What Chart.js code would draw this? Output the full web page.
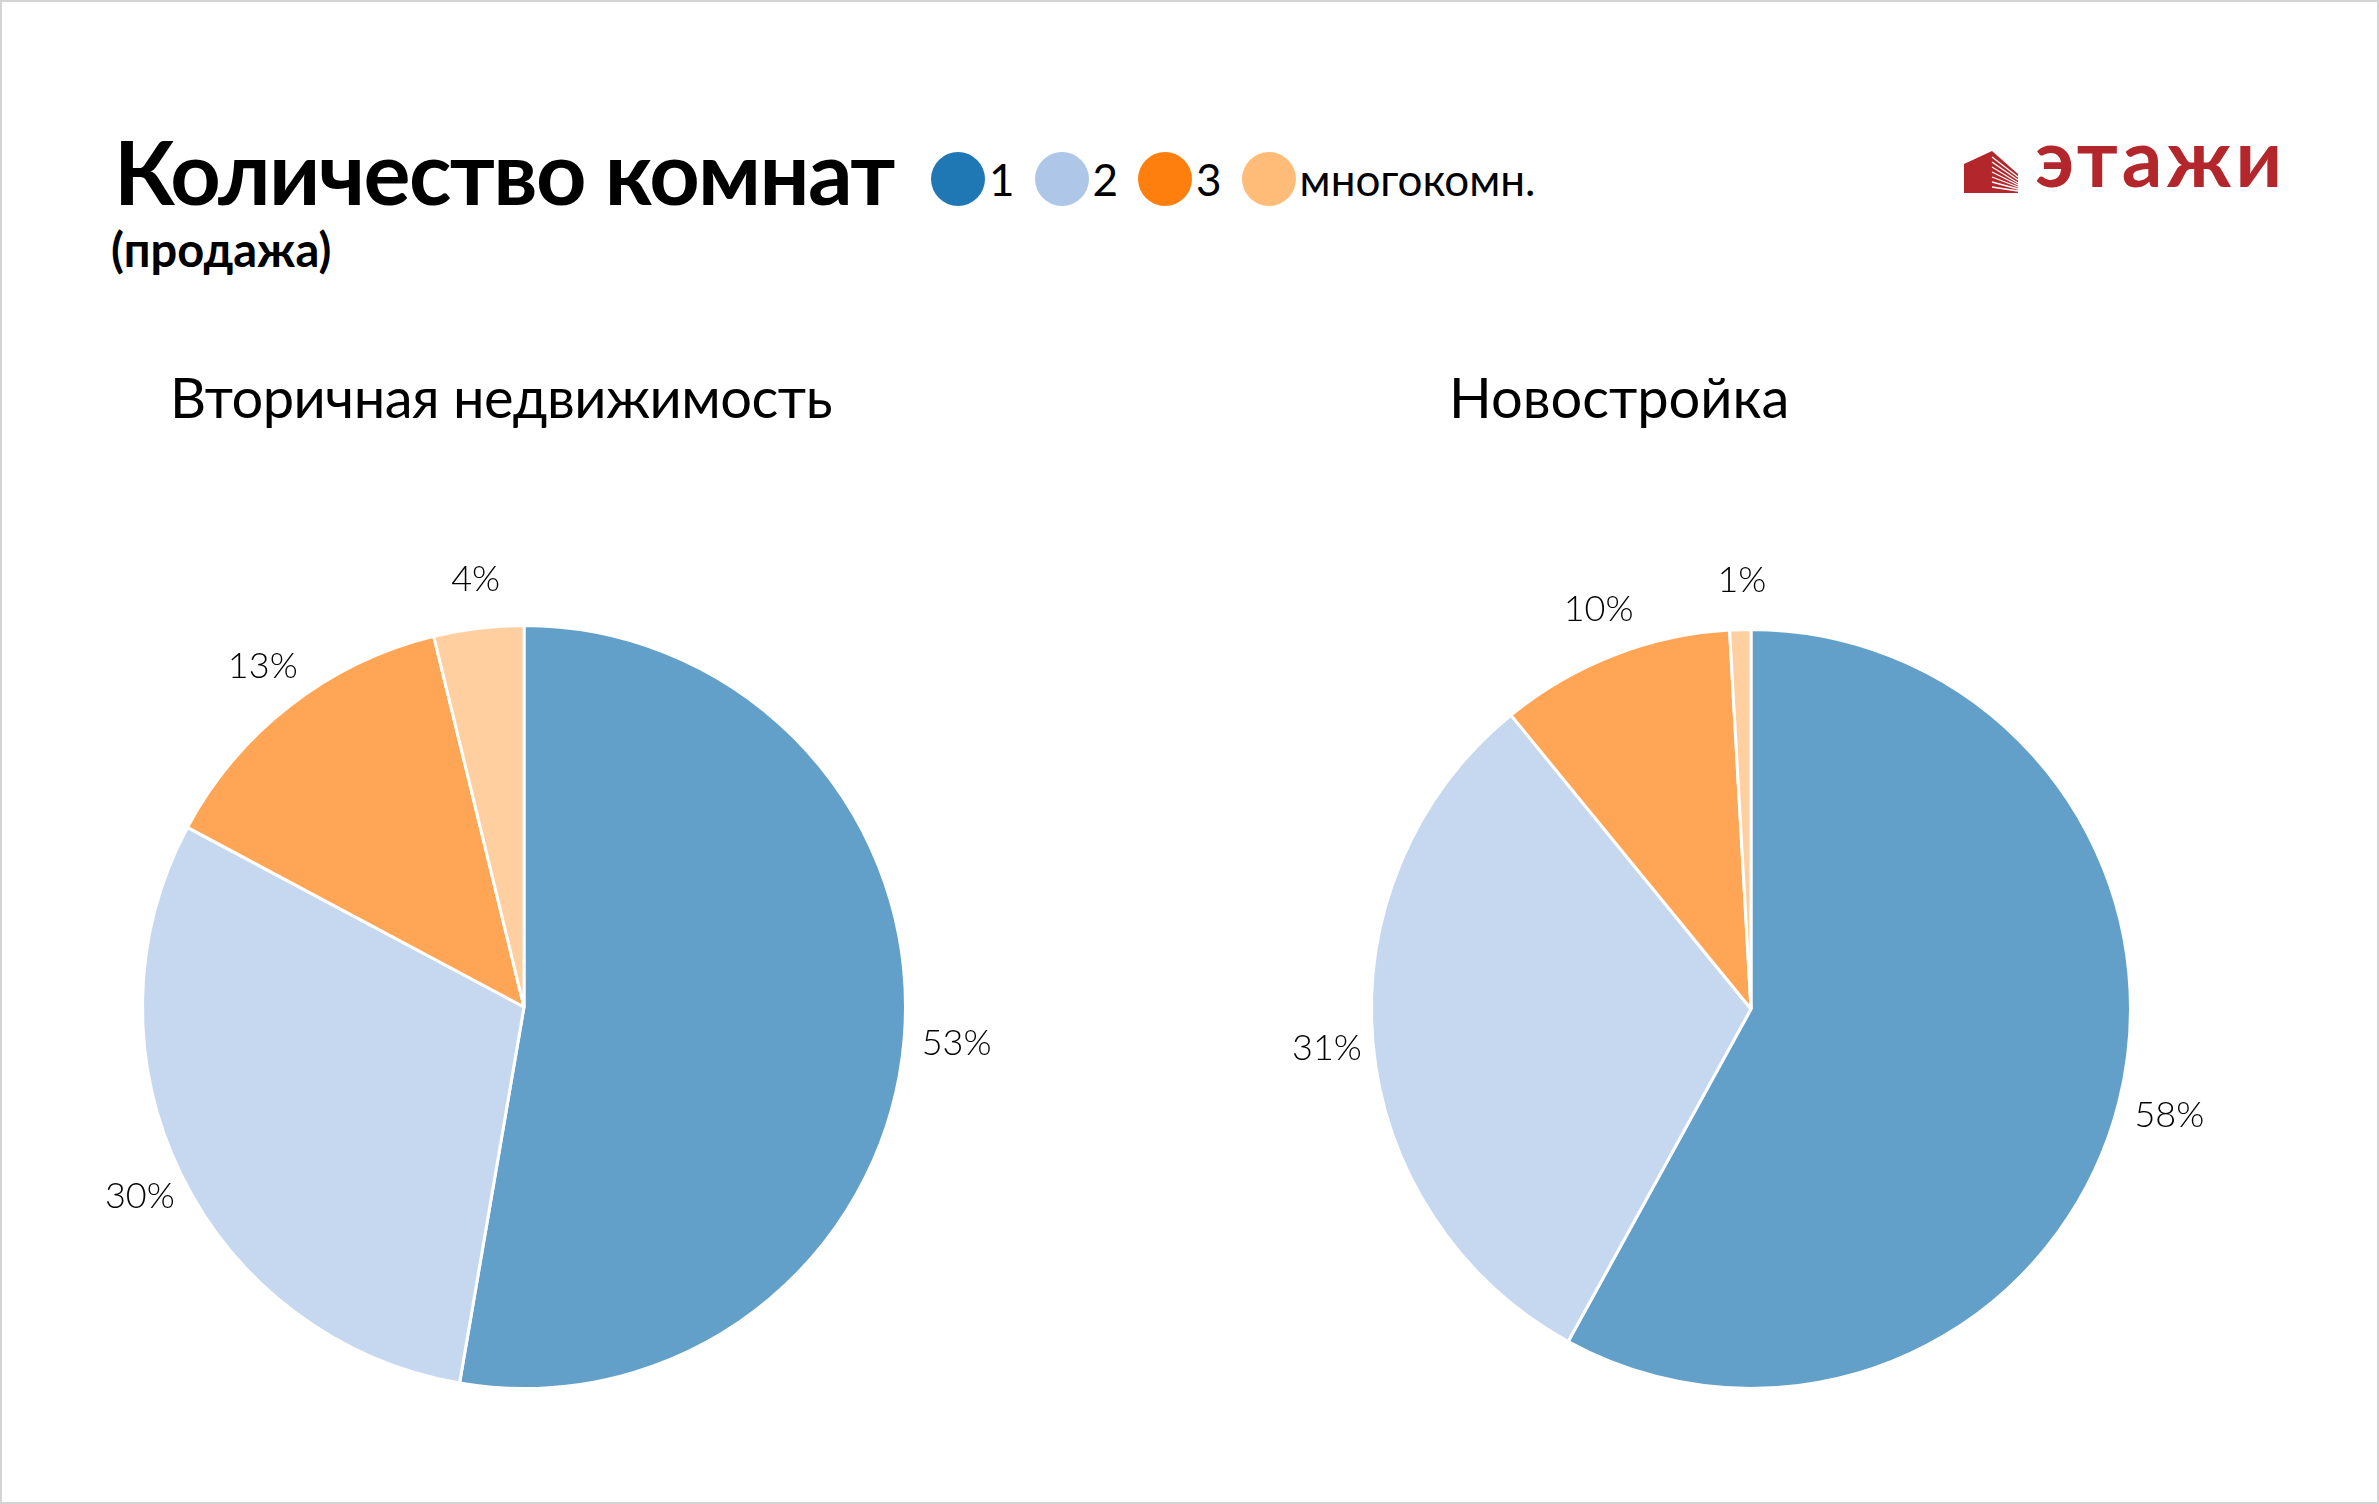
<!DOCTYPE html>
<html>
<head>
<meta charset="utf-8">
<script src="https://cdn.jsdelivr.net/npm/chart.js@4.4.1/dist/chart.umd.min.js"></script>
<style>
  html, body { margin: 0; padding: 0; background: #fff; }
  #page {
    position: relative; width: 2379px; height: 1504px; box-sizing: border-box;
    border: 2px solid #d4d4d4; background: #fff; overflow: hidden;
    font-family: Lato, "Noto Sans", sans-serif; color: #000;
  }
  .abs { position: absolute; line-height: 1; white-space: nowrap; }
  #title { left: 112px; top: 125px; font-size: 88px; font-weight: 700; letter-spacing: -1.6px; }
  #subtitle { left: 109px; top: 224px; font-size: 47px; font-weight: 700; }
  #legend { left: 929px; top: 150px; display: flex; align-items: center; height: 54px; }
  .item { display: flex; align-items: center; margin-right: 20px; }
  .dot { width: 54px; height: 54px; border-radius: 50%; margin-right: 4px; }
  .item span { font-size: 44px; }
  #logo { left: 1960px; top: 146px; }
  #logoText { left: 2033px; top: 114px; font-size: 80px; font-weight: 700; color: #b3262b; letter-spacing: 4px; }
  .ptitle { font-size: 56px; font-weight: 400; top: 367px; }
  canvas { position: absolute; }
</style>
</head>
<body>
<div id="page">
  <div id="title" class="abs">Количество комнат</div>
  <div id="subtitle" class="abs">(продажа)</div>
  <div id="legend" class="abs"></div>

  <svg id="logo" class="abs" width="58" height="46" viewBox="0 0 58 46">
    <polygon points="2,45 2,16 30,3 56,26 56,45" fill="#b3262b"/>
    <g stroke="#fff" stroke-width="1.3">
      <line x1="30" y1="9" x2="56" y2="29"/>
      <line x1="30" y1="14" x2="56" y2="32"/>
      <line x1="30" y1="19" x2="56" y2="35"/>
      <line x1="30" y1="24" x2="56" y2="37"/>
      <line x1="30" y1="29" x2="56" y2="39"/>
      <line x1="30" y1="34" x2="56" y2="41"/>
      <line x1="30" y1="39" x2="56" y2="43"/>
    </g>
  </svg>
  <div id="logoText" class="abs">этажи</div>

  <div class="abs ptitle" style="left:168px; letter-spacing:-0.5px">Вторичная недвижимость</div>
  <div class="abs ptitle" style="left:1447px">Новостройка</div>

  <canvas id="pieLeft" width="1000" height="1000" style="left:22px; top:505px"></canvas>
  <canvas id="pieRight" width="1000" height="1000" style="left:1249px; top:507px"></canvas>
</div>

<script>
// ===== DATA =====
const categories = ["1", "2", "3", "многокомн."];
const secondaryShares = [52.7, 30.1, 13.4, 3.8];   // Вторичная недвижимость
const newBuildShares = [58.0, 31.1, 10.0, 0.9];    // Новостройка

const legendColors = ["#1f77b4", "#aec7e8", "#ff7f0e", "#ffbb78"];
const sliceColors = ["rgba(31,119,180,0.7)", "rgba(174,199,232,0.7)", "rgba(255,127,14,0.7)", "rgba(255,187,120,0.7)"];

// ===== LEGEND =====
const legendBox = document.getElementById("legend");
categories.forEach((name, i) => {
    const item = document.createElement("div");
    item.className = "item";
    item.innerHTML = '<div class="dot" style="background:' + legendColors[i] + '"></div><span>' + name + '</span>';
    legendBox.appendChild(item);
});

// ===== PERCENT LABELS OUTSIDE SLICES =====
const pctLabels = {
    id: "pctLabels",
    afterDatasetsDraw(chart) {
        const ctx = chart.ctx;
        const values = chart.data.datasets[0].data;
        ctx.save();
        ctx.font = "300 36px Lato, 'Noto Sans', sans-serif";
        ctx.fillStyle = "#000";
        ctx.textAlign = "center";
        ctx.textBaseline = "middle";
        chart.getDatasetMeta(0).data.forEach((arc, i) => {
            const p = arc.getProps(["x", "y", "startAngle", "endAngle", "outerRadius"], true);
            const mid = (p.startAngle + p.endAngle) / 2;
            const r = p.outerRadius * 1.13;
            ctx.fillText(Math.round(values[i]) + "%", p.x + Math.cos(mid) * r + 3, p.y + Math.sin(mid) * r);
        });
        ctx.restore();
    }
};

// ===== CREATE PIES =====
function makePie(id, values, pad) {
    return new Chart(document.getElementById(id).getContext("2d"), {
        type: "pie",
        data: {
            labels: categories,
            datasets: [{
                data: values,
                backgroundColor: sliceColors,
                borderColor: "#fff",
                borderWidth: 3
            }]
        },
        options: {
            responsive: false,
            animation: false,
            layout: { padding: pad },
            plugins: { legend: { display: false }, tooltip: { enabled: false } }
        },
        plugins: [pctLabels]
    });
}

makePie("pieLeft", secondaryShares, 117);
makePie("pieRight", newBuildShares, 119);
</script>
</body>
</html>
